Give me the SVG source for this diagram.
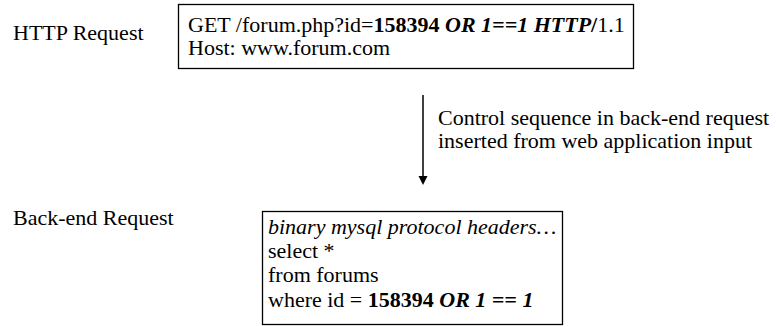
<svg xmlns="http://www.w3.org/2000/svg" width="776" height="327" viewBox="0 0 776 327">
<style>
text{font-family:"Liberation Serif","Times New Roman",serif;font-size:22px;fill:#000}
.box{fill:#fff;stroke:#000;stroke-width:1.3}
.b{font-weight:bold}
.i{font-style:italic}
.bi{font-weight:bold;font-style:italic}
</style>
<g id="label-http"><text x="13" y="40">HTTP Request</text></g>
<g id="http-request">
<rect class="box" x="178.5" y="4.5" width="455" height="64"/>
<text x="188" y="32">GET /forum.php?id=<tspan class="b">158394 </tspan><tspan class="bi">OR 1==1 HTTP</tspan><tspan class="b">/</tspan>1.1</text>
<text x="188" y="55">Host: www.forum.com</text>
</g>
<g id="connectors">
<line x1="423" y1="95" x2="423" y2="177" stroke="#000" stroke-width="1.5"/>
<path d="M418.5,176 L427.5,176 L423,185 z" fill="#000"/>
<text x="438" y="125">Control sequence in back-end request</text>
<text x="438" y="148">inserted from web application input</text>
</g>
<g id="label-backend"><text x="13" y="225">Back-end Request</text></g>
<g id="backend-request">
<rect class="box" x="262.5" y="211.5" width="300" height="113"/>
<text x="268" y="234" class="i">binary mysql protocol headers…</text>
<text x="268" y="258">select *</text>
<text x="268" y="282">from forums</text>
<text x="268" y="307">where id = <tspan class="b">158394 </tspan><tspan class="bi">OR 1 == 1</tspan></text>
</g>
</svg>
